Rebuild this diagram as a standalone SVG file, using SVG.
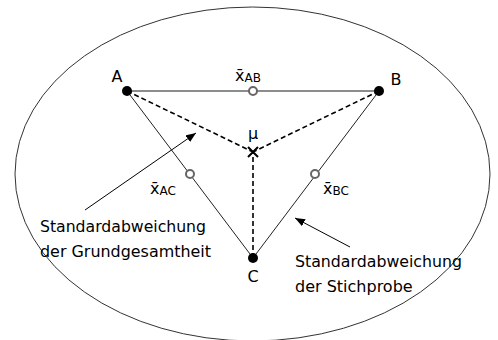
<svg xmlns="http://www.w3.org/2000/svg" width="498" height="340" viewBox="0 0 498 340">
<style>
text{font-family:"DejaVu Sans","Liberation Sans",sans-serif;fill:#000}
.lbl{font-size:16px}
.sub{font-size:12px}
.dash{stroke:#000;stroke-width:1.6;stroke-dasharray:5,3;fill:none}
.edge{stroke:#222;stroke-width:1;fill:none}
.pt{fill:#000}
.mid{fill:#fff;stroke:#666;stroke-width:2}
</style>
<defs>
<marker id="ah" viewBox="0 0 10 8" refX="10" refY="4" markerWidth="10" markerHeight="8" markerUnits="userSpaceOnUse" orient="auto">
<path d="M0,0 L10,4 L0,8 z" fill="#000"/>
</marker>
</defs>
<rect width="498" height="340" fill="#fff"/>
<ellipse id="population" cx="252.5" cy="174" rx="237.5" ry="167" fill="none" stroke="#333" stroke-width="1"/>
<g id="connectors">
<line x1="127" y1="91" x2="379" y2="91" stroke="#666" stroke-width="1.5"/>
<line class="edge" x1="127" y1="91" x2="253" y2="258"/>
<line class="edge" x1="379" y1="91" x2="253" y2="258"/>
<line class="dash" x1="127" y1="91" x2="253" y2="152"/>
<line class="dash" x1="379" y1="91" x2="253" y2="152"/>
<line class="dash" x1="253" y1="258" x2="253" y2="152"/>
<line x1="85" y1="210" x2="196" y2="133" stroke="#000" stroke-width="1" marker-end="url(#ah)"/>
<line x1="350" y1="247" x2="295" y2="218" stroke="#000" stroke-width="1" marker-end="url(#ah)"/>
</g>
<g id="A"><circle class="pt" cx="127" cy="91" r="5"/><text class="lbl" x="117" y="82" text-anchor="middle">A</text></g>
<g id="B"><circle class="pt" cx="379" cy="91" r="5"/><text class="lbl" x="396" y="85" text-anchor="middle">B</text></g>
<g id="C"><circle class="pt" cx="253" cy="258" r="5"/><text class="lbl" x="253" y="282" text-anchor="middle">C</text></g>
<g id="mu"><path d="M248,147 L258,157 M258,147 L248,157" stroke="#000" stroke-width="2"/><text class="lbl" x="253" y="139" text-anchor="middle">μ</text></g>
<g id="xAB"><circle class="mid" cx="253" cy="91" r="4"/><text class="lbl" x="235" y="81">x̄<tspan class="sub" dy="1">AB</tspan></text></g>
<g id="xAC"><circle class="mid" cx="190" cy="174" r="4"/><text class="lbl" x="150" y="194">x̄<tspan class="sub" dy="1">AC</tspan></text></g>
<g id="xBC"><circle class="mid" cx="315" cy="174" r="4"/><text class="lbl" x="323" y="194">x̄<tspan class="sub" dy="1">BC</tspan></text></g>
<g id="label-grund">
<text class="lbl" x="40" y="232" textLength="166" lengthAdjust="spacingAndGlyphs">Standardabweichung</text>
<text class="lbl" x="40" y="257" textLength="171" lengthAdjust="spacingAndGlyphs">der Grundgesamtheit</text>
</g>
<g id="label-stich">
<text class="lbl" x="295" y="267" textLength="167" lengthAdjust="spacingAndGlyphs">Standardabweichung</text>
<text class="lbl" x="295" y="292">der Stichprobe</text>
</g>
</svg>
